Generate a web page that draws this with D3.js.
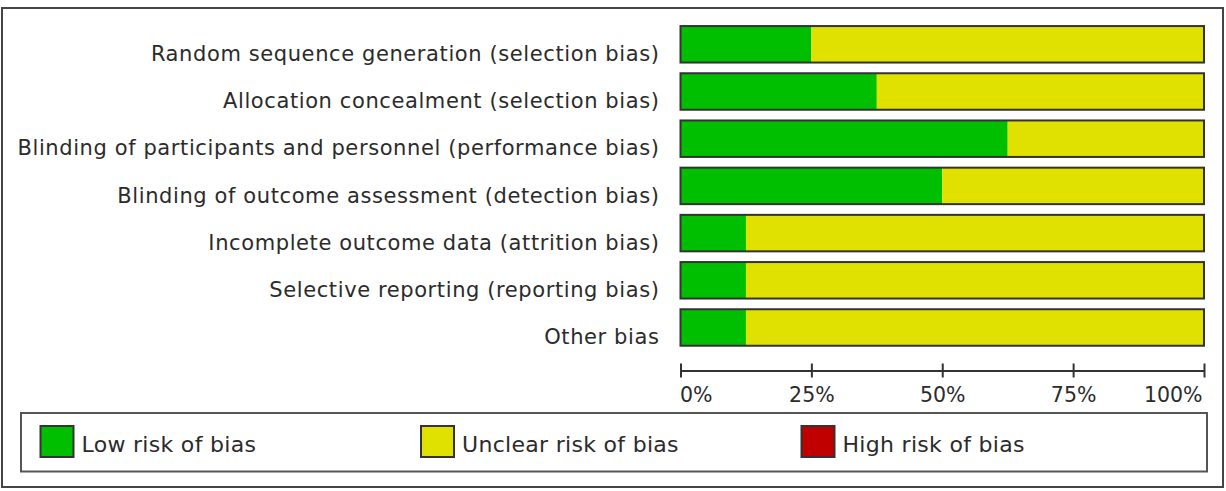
<!DOCTYPE html>
<html>
<head>
<meta charset="utf-8">
<script src="https://cdn.jsdelivr.net/npm/d3@7/dist/d3.min.js"></script>
<style>
  body { margin: 0; background: #fff; }
  svg text { font-family: "DejaVu Sans", Verdana, sans-serif; fill: #2b2b2b; }
</style>
</head>
<body>
<div id="vis"></div>
<script>
var width = 1226;
var height = 491;

// risk of bias domains
var domains = [
  'Random sequence generation (selection bias)',
  'Allocation concealment (selection bias)',
  'Blinding of participants and personnel (performance bias)',
  'Blinding of outcome assessment (detection bias)',
  'Incomplete outcome data (attrition bias)',
  'Selective reporting (reporting bias)',
  'Other bias'
];

// percent of studies per judgement
var lowRisk = [25, 37.5, 62.5, 50, 12.5, 12.5, 12.5];
var unclearRisk = [75, 62.5, 37.5, 50, 87.5, 87.5, 87.5];
var highRisk = [0, 0, 0, 0, 0, 0, 0];

var tickValues = [0, 25, 50, 75, 100];
var tickLabels = ['0%', '25%', '50%', '75%', '100%'];

var legendLabels = ['Low risk of bias', 'Unclear risk of bias', 'High risk of bias'];
var colors = ['#00bf00', '#e1e100', '#c00000'];

var svg = d3.select('#vis')
  .append('svg')
  .attr('width', width)
  .attr('height', height);

// outer frame
svg.append('rect')
  .attr('x', 2).attr('y', 8)
  .attr('width', 1221).attr('height', 479)
  .attr('fill', 'none')
  .attr('stroke', '#444')
  .attr('stroke-width', 2);

var x = d3.scaleLinear()
  .domain([0, 100])
  .range([680.5, 1204]);

var y = d3.scaleBand()
  .domain(domains)
  .range([20.7, 351.1])
  .paddingInner(0.227)
  .paddingOuter(0.1135);

// build stacked rows
var rows = domains.map(function (d, i) {
  var vals = [lowRisk[i], unclearRisk[i], highRisk[i]];
  var start = 0;
  var segs = vals.map(function (v, j) {
    var s = { x0: start, x1: start + v, color: colors[j] };
    start += v;
    return s;
  });
  return { name: d, segs: segs };
});

var row = svg.selectAll('.row')
  .data(rows)
  .enter().append('g')
  .attr('class', 'row')
  .attr('transform', function (d) { return 'translate(0,' + y(d.name) + ')'; });

row.selectAll('.seg')
  .data(function (d) { return d.segs.filter(function (s) { return s.x1 > s.x0; }); })
  .enter().append('rect')
  .attr('class', 'seg')
  .attr('x', function (s) { return x(s.x0); })
  .attr('width', function (s) { return x(s.x1) - x(s.x0); })
  .attr('y', 0)
  .attr('height', y.bandwidth())
  .attr('fill', function (s) { return s.color; });

// outline around the whole bar
row.append('rect')
  .attr('x', x(0))
  .attr('width', x(100) - x(0))
  .attr('y', 0)
  .attr('height', y.bandwidth())
  .attr('fill', 'none')
  .attr('stroke', '#333')
  .attr('stroke-width', 2);

row.append('text')
  .attr('x', 659.5)
  .attr('y', y.bandwidth() - 1.5)
  .attr('text-anchor', 'end')
  .style('font-size', '21px')
  .style('letter-spacing', '0.6px')
  .text(function (d) { return d.name; });

// percentage axis
var axis = d3.axisBottom(x)
  .tickValues(tickValues)
  .tickSizeOuter(0)
  .tickFormat(function (d, i) { return tickLabels[i]; });

var axisG = svg.append('g')
  .attr('transform', 'translate(0,370.5)')
  .call(axis);

axisG.select('.domain').attr('stroke', '#333').attr('stroke-width', 2);
axisG.selectAll('.tick line')
  .attr('y1', -7).attr('y2', 7)
  .attr('stroke', '#333').attr('stroke-width', 2);
axisG.selectAll('.tick text')
  .attr('y', 31).attr('dy', 0)
  .style('font-size', '20.5px')
  .style('font-family', '"DejaVu Sans", Verdana, sans-serif')
  .attr('fill', '#2b2b2b')
  .attr('text-anchor', function (d, i) {
    return i === 0 ? 'start' : (i === tickValues.length - 1 ? 'end' : 'middle');
  })
  .attr('dx', function (d, i) {
    return i === 0 ? -1 : (i === tickValues.length - 1 ? -2 : 0);
  });

// legend
svg.append('rect')
  .attr('x', 21).attr('y', 413)
  .attr('width', 1186).attr('height', 58.5)
  .attr('fill', 'none')
  .attr('stroke', '#555')
  .attr('stroke-width', 2);

var legend = svg.selectAll('.legend')
  .data(legendLabels)
  .enter().append('g')
  .attr('class', 'legend')
  .attr('transform', function (d, i) { return 'translate(' + (40.5 + i * 380.5) + ',426)'; });

legend.append('rect')
  .attr('width', 33).attr('height', 31)
  .attr('fill', function (d, i) { return colors[i]; })
  .attr('stroke', '#333')
  .attr('stroke-width', 2);

legend.append('text')
  .attr('x', 41)
  .attr('y', 26)
  .style('font-size', '22px')
  .style('letter-spacing', '0.3px')
  .text(function (d) { return d; });
</script>
</body>
</html>
